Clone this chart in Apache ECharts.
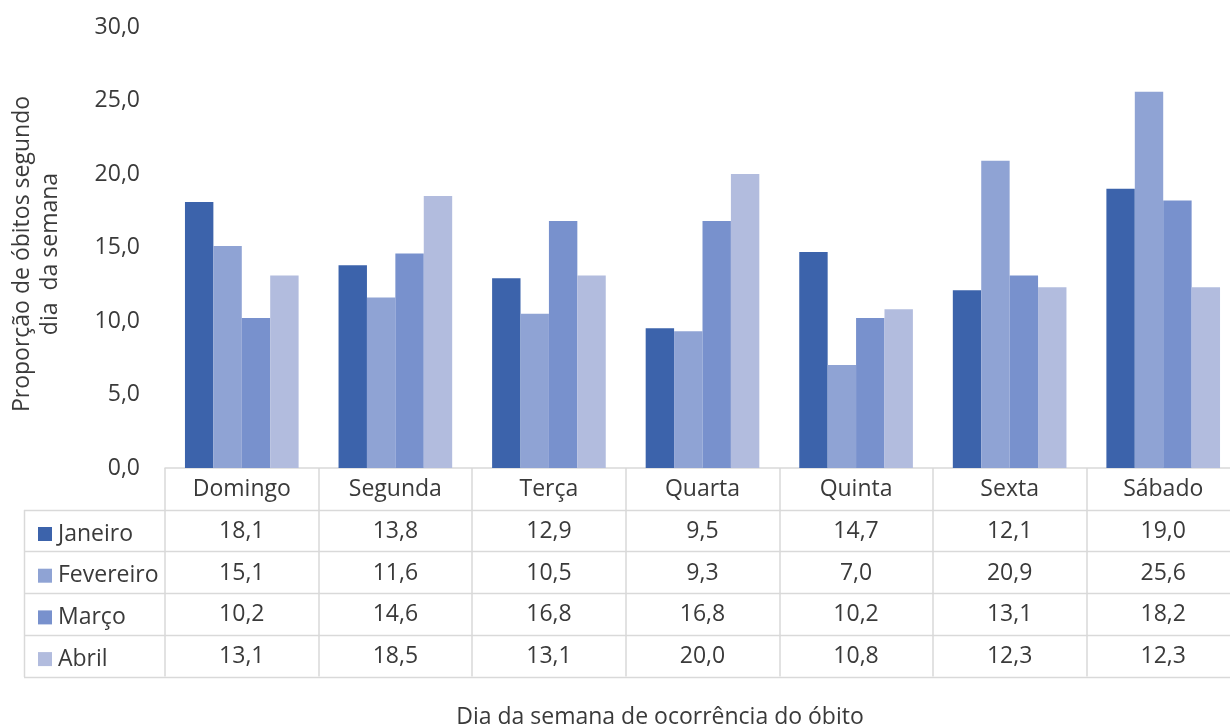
<!DOCTYPE html>
<html>
<head>
<meta charset="utf-8">
<script src="https://cdn.jsdelivr.net/npm/echarts@6/dist/echarts.min.js"></script>
<style>
  html, body { margin: 0; padding: 0; background: #fff; }
  #chart { width: 1230px; height: 726px; }
</style>
</head>
<body>
<div id="chart"></div>
<script>
// Dias da semana e proporção (%) de óbitos por mês
const dias = ['Domingo', 'Segunda', 'Terça', 'Quarta', 'Quinta', 'Sexta', 'Sábado'];
const meses = ['Janeiro', 'Fevereiro', 'Março', 'Abril'];
const janeiro   = [18.1, 13.8, 12.9, 9.5, 14.7, 12.1, 19.0];
const fevereiro = [15.1, 11.6, 10.5, 9.3, 7.0, 20.9, 25.6];
const marco     = [10.2, 14.6, 16.8, 16.8, 10.2, 13.1, 18.2];
const abril     = [13.1, 18.5, 13.1, 20.0, 10.8, 12.3, 12.3];
const yTicks = [0, 5, 10, 15, 20, 25, 30];

const valores = [janeiro, fevereiro, marco, abril];
const cores = ['#3c63ab', '#8fa3d4', '#7891cd', '#b2bcde'];

const FONT = 'Open Sans';
const FS = 23;
const TXT = '#3a3a3a';
const LINE = '#d9d9d9';

// layout of the plot and the data table beneath it
const gridLeft = 165, gridTop = 27, axisY = 468, gridRight = -10;
const rowH = 41.7;
const tableLeft = 24;
const tableBottom = axisY + rowH * 5;

const fmt = v => v.toFixed(1).replace('.', ',');

const chart = echarts.init(document.getElementById('chart'));

// horizontal rules of the data table
const tableLines = [];
for (let r = 1; r <= 5; r++) {
  const y = Math.round(axisY + rowH * r) + 0.5;
  tableLines.push({
    type: 'line',
    shape: { x1: tableLeft, y1: y, x2: 1230, y2: y },
    style: { stroke: LINE, lineWidth: 1.5 },
    silent: true
  });
}
tableLines.push({
  type: 'line',
  shape: { x1: tableLeft + 0.5, y1: Math.round(axisY + rowH), x2: tableLeft + 0.5, y2: Math.round(tableBottom) },
  style: { stroke: LINE, lineWidth: 1.5 },
  silent: true
});

// axis titles
const titles = [
  {
    type: 'text',
    x: 660,
    y: 717,
    style: {
      text: 'Dia da semana de ocorrência do óbito',
      font: FS + 'px "' + FONT + '"',
      fill: TXT,
      textAlign: 'center',
      textVerticalAlign: 'middle'
    },
    silent: true
  },
  {
    type: 'text',
    x: 36,
    y: 254,
    rotation: Math.PI / 2,
    style: {
      text: 'Proporção de óbitos segundo\ndia  da semana',
      font: FS + 'px "' + FONT + '"',
      lineHeight: 28,
      fill: TXT,
      align: 'center',
      verticalAlign: 'middle'
    },
    silent: true
  }
];

chart.setOption({
  animation: false,
  textStyle: { fontFamily: FONT, color: TXT },
  grid: {
    left: gridLeft, top: gridTop, right: gridRight, bottom: 726 - axisY,
    outerBoundsMode: 'none'
  },
  legend: {
    orient: 'vertical',
    left: 33,
    top: Math.round(axisY + rowH * 1.5 - 15),
    icon: 'rect',
    itemWidth: 14,
    itemHeight: 14,
    itemGap: rowH - 26,
    data: meses,
    textStyle: { fontFamily: FONT, fontSize: FS, color: TXT, lineHeight: 26, padding: [0, 0, 0, 1] }
  },
  xAxis: {
    type: 'category',
    data: dias,
    boundaryGap: true,
    axisLine: { show: true, lineStyle: { color: LINE, width: 1.5 } },
    axisTick: { show: true, length: tableBottom - axisY, lineStyle: { color: LINE, width: 1.5 } },
    axisLabel: {
      interval: 0,
      margin: 1,
      fontFamily: FONT,
      fontSize: FS,
      color: TXT,
      lineHeight: rowH,
      formatter: (val, idx) => [val].concat(valores.map(s => fmt(s[idx]))).join('\n')
    }
  },
  yAxis: {
    type: 'value',
    min: yTicks[0],
    max: yTicks[yTicks.length - 1],
    interval: yTicks[1] - yTicks[0],
    splitLine: { show: false },
    axisLine: { show: false },
    axisTick: { show: false },
    axisLabel: { fontFamily: FONT, fontSize: FS, color: TXT, margin: 25, formatter: v => fmt(v) }
  },
  series: meses.map((m, i) => ({
    name: m,
    type: 'bar',
    data: valores[i],
    barGap: '0%',
    barCategoryGap: '26%',
    itemStyle: { color: cores[i] }
  })),
  graphic: tableLines.concat(titles)
});
</script>
</body>
</html>
